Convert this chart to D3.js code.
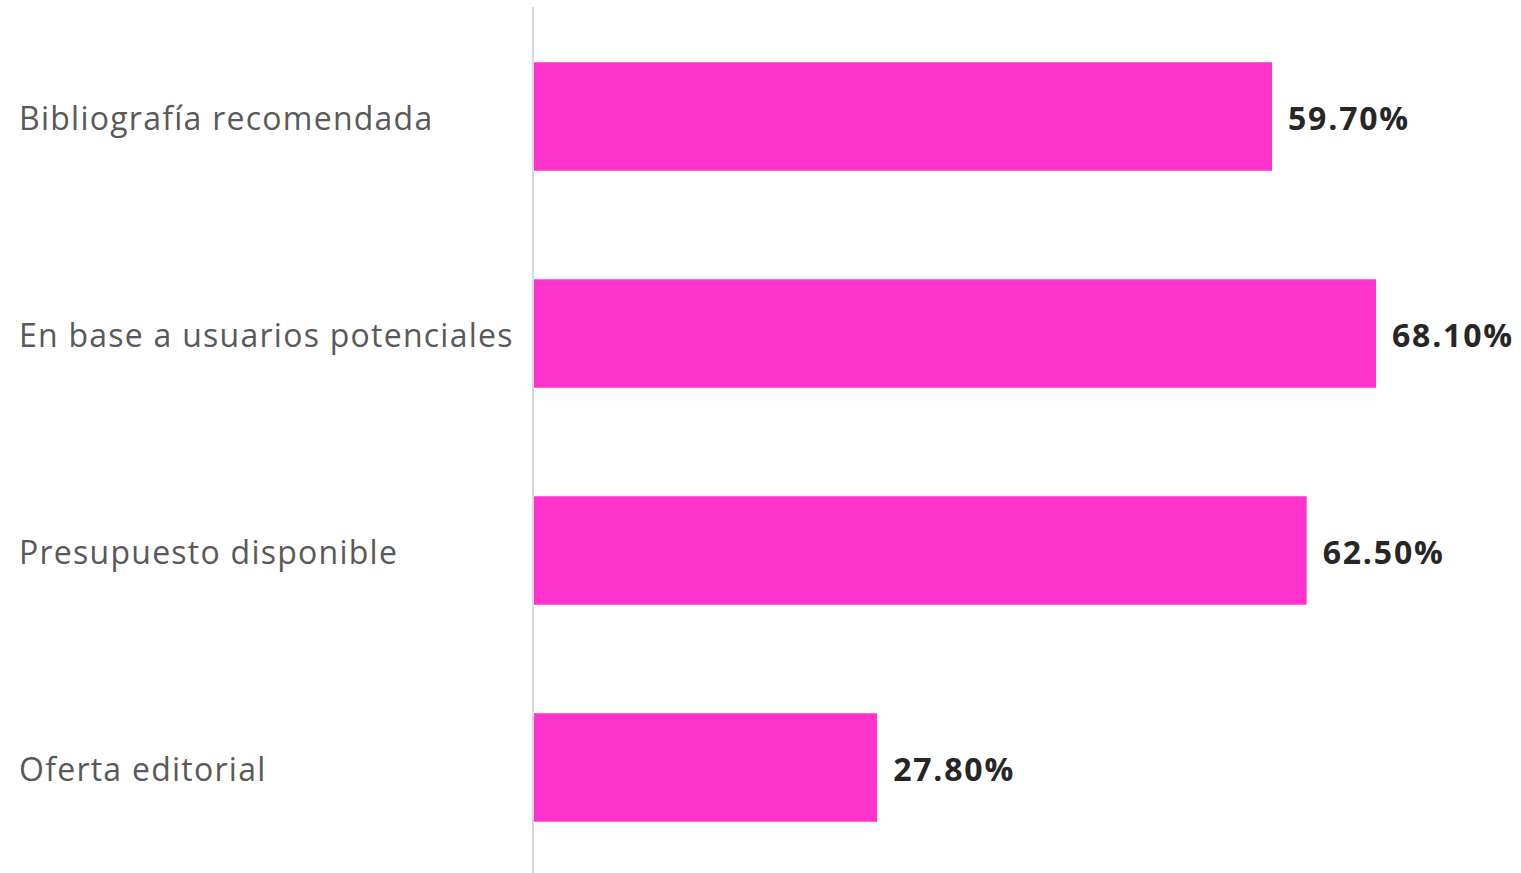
<!DOCTYPE html>
<html>
<head>
<meta charset="utf-8">
<script src="https://cdn.jsdelivr.net/npm/d3@7"></script>
<style>
  body { margin: 0; background: #fff; }
  text { font-family: "Open Sans", sans-serif; }
</style>
</head>
<body>
<script>
/* Horizontal bar chart */

const categories = ["Bibliografía recomendada", "En base a usuarios potenciales", "Presupuesto disponible", "Oferta editorial"];
const values = [59.7, 68.1, 62.5, 27.8];

const w = 1521,
      h = 873,
      axisX = 533;

const svg = d3.select("body")
              .append("svg")
              .attr("width", w)
              .attr("height", h);

const x = d3.scaleLinear()
            .domain([0, 68.1])
            .range([axisX, 1376]);

const y = d3.scaleBand()
            .domain(categories)
            .range([8, 876])
            .paddingInner(0.5)
            .paddingOuter(0.25);

/* Bars */

svg.append("g").selectAll("rect")
  .data(values)
  .enter()
  .append("rect")
  .attr("x", x(0))
  .attr("y", (d, i) => y(categories[i]))
  .attr("width", d => x(d) - x(0))
  .attr("height", y.bandwidth())
  .attr("fill", "#ff33cc");

/* Axis line */

svg.append("line")
  .attr("x1", axisX)
  .attr("x2", axisX)
  .attr("y1", 7)
  .attr("y2", h)
  .attr("stroke", "#d9d9d9")
  .attr("stroke-width", 2);

/* Category labels */

svg.append("g").selectAll("text")
  .data(categories)
  .enter()
  .append("text")
  .attr("x", 19)
  .attr("y", d => y(d) + y.bandwidth() / 2 + 2)
  .attr("dy", "0.35em")
  .attr("font-size", 32)
  .attr("letter-spacing", 1.25)
  .attr("fill", "#595959")
  .text(d => d);

/* Value labels */

svg.append("g").selectAll("text")
  .data(values)
  .enter()
  .append("text")
  .attr("x", d => x(d) + 16)
  .attr("y", (d, i) => y(categories[i]) + y.bandwidth() / 2 + 2)
  .attr("dy", "0.35em")
  .attr("font-size", 32)
  .attr("letter-spacing", 1.8)
  .attr("font-weight", "bold")
  .attr("fill", "#262626")
  .text(d => d.toFixed(2) + "%");
</script>
</body>
</html>
